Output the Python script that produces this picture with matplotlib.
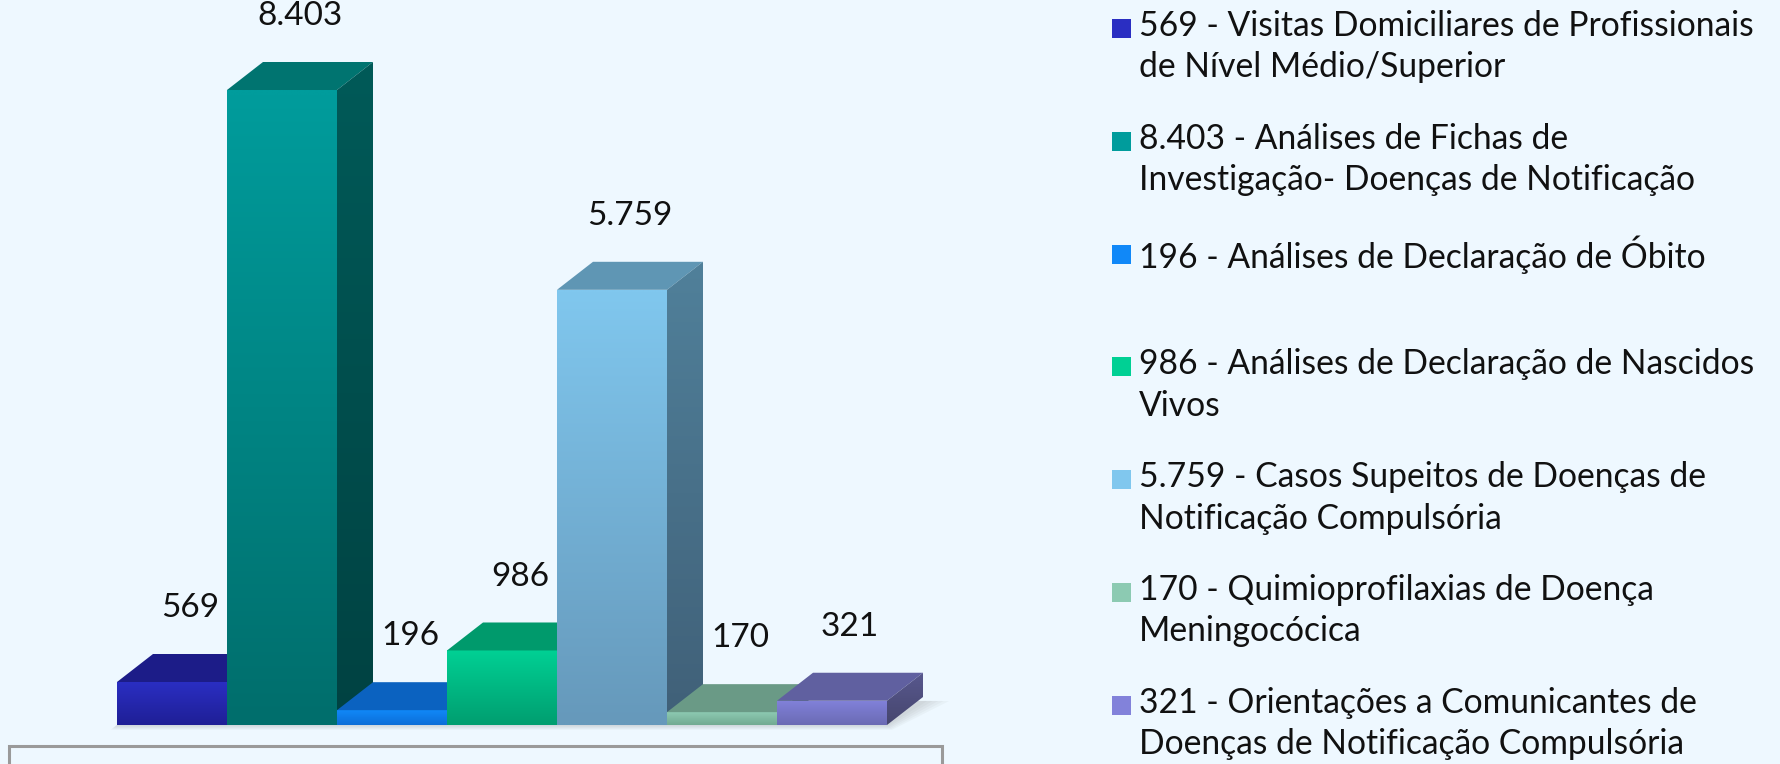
import numpy as np
import matplotlib.pyplot as plt
from matplotlib.patches import Polygon, Rectangle
from matplotlib.colors import to_rgb

# dados
valores = [569, 8403, 196, 986, 5759, 170, 321]
nomes = [
    "Visitas Domiciliares de Profissionais\nde Nível Médio/Superior",
    "Análises de Fichas de\nInvestigação- Doenças de Notificação",
    "Análises de Declaração de Óbito",
    "Análises de Declaração de Nascidos\nVivos",
    "Casos Supeitos de Doenças de\nNotificação Compulsória",
    "Quimioprofilaxias de Doença\nMeningocócica",
    "Orientações a Comunicantes de\nDoenças de Notificação Compulsória",
]
# cores: frente (topo, base), face superior, lateral (topo, base)
frente_topo = ['#2a2ec2', '#009c9c', '#1088f8', '#00d094', '#80c7ee', '#8ccab2', '#8282da']
frente_base = ['#1f1f96', '#006e6c', '#0c6ed8', '#009e70', '#6699bb', '#72aa92', '#6a6ab4']
cor_tampa = ['#1c1c88', '#007470', '#0b62c0', '#009a6c', '#5f96b4', '#6a9a86', '#6060a0']
lado_topo = ['#16166e', '#005a58', '#0a56a8', '#00805a', '#50809a', '#5a8474', '#58588e']
lado_base = ['#101050', '#004242', '#084486', '#006448', '#406078', '#486a5e', '#46466e']

fundo = '#eef8ff'
W, H = 1781, 764
fig = plt.figure(figsize=(W / 100, H / 100), dpi=100, facecolor=fundo)
ax = fig.add_axes([0, 0, 1, 1])
ax.set_facecolor(fundo)
ax.axis('off')

# escala: 110 px por barra, 635 px para o maior valor
px_x = 110.0
u = max(valores) / 635.0
x0 = -117 / px_x
dx = 36 / px_x
dy = 28 * u


def mix(c1, c2, n=64):
    a, b = np.array(to_rgb(c1)), np.array(to_rgb(c2))
    t = np.linspace(0, 1, n)[:, None]
    return (a * (1 - t) + b * t)[:, None, :]


def face(verts, c_top, c_bot, z):
    p = Polygon(verts, closed=True, facecolor='none', edgecolor='none')
    ax.add_patch(p)
    xs = [v[0] for v in verts]
    ys = [v[1] for v in verts]
    im = ax.imshow(mix(c_top, c_bot), extent=(min(xs), max(xs), min(ys), max(ys)),
                   origin='upper', aspect='auto', interpolation='bilinear', zorder=z)
    im.set_clip_path(p)


n = len(valores)
# sombra no chão
for k in range(5):
    e = 0.015 + k * 0.02
    ax.add_patch(Polygon([(-e * 0.6, -e * 50 * u), (n + e * 0.5, -e * 50 * u),
                          (n + dx + e * 2.5, dy - 4 * u), (dx, dy)], closed=True,
                         facecolor='#7a7a7a', edgecolor='none', alpha=0.055, zorder=1))

for i, v in enumerate(valores):
    z = 2 + i * 0.1
    fx0, fx1 = i, i + 1
    face([(fx0, 0), (fx1, 0), (fx1, v), (fx0, v)], frente_topo[i], frente_base[i], z)
    ax.add_patch(Polygon([(fx0, v), (fx1, v), (fx1 + dx, v + dy), (fx0 + dx, v + dy)],
                         closed=True, facecolor=cor_tampa[i], edgecolor='none', zorder=z + 0.01))
    face([(fx1, 0), (fx1 + dx, dy), (fx1 + dx, v + dy), (fx1, v)], lado_topo[i], lado_base[i], z + 0.02)
    rot = f"{v:,}".replace(',', '.')
    ax.annotate(rot, xy=(i + 0.5 + dx / 2, v + dy), xytext=(0, 33), textcoords='offset points',
                ha='center', va='center', fontsize=24, family='Lato', color='#111111', zorder=5)

ax.set_xlim(x0, x0 + W / px_x)
ax.set_ylim(-39 * u, (H - 39) * u)

# caixa inferior
fig.patches.append(Rectangle((9 / W, -0.1), 933 / W, (H - 746) / H + 0.1, transform=fig.transFigure,
                             facecolor='none', edgecolor='#9a9a9a', lw=2.2))

# legenda
fs = 24.2
for i, v in enumerate(valores):
    ytop = 28 + i * 112.8
    cy = 1 - ytop / H
    fig.patches.append(Rectangle((1112 / W, cy - 10 / H), 19 / W, 19 / H, transform=fig.transFigure,
                                 facecolor=frente_topo[i], edgecolor='none'))
    rot = f"{v:,}".replace(',', '.')
    fig.text(1139 / W, 1 - (ytop - 18) / H, f"{rot} - {nomes[i]}", ha='left', va='top',
             fontsize=fs, family='Lato', color='#111111', linespacing=1.36)

fig.savefig('out.png', dpi=100, facecolor=fundo)
